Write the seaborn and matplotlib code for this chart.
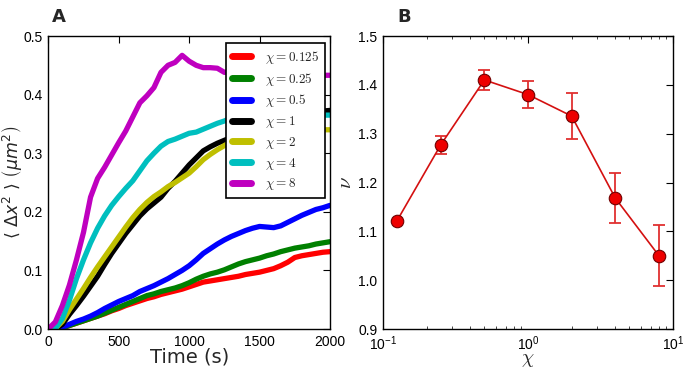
import numpy as np
import pandas as pd
import matplotlib
matplotlib.use("Agg")
import matplotlib.pyplot as plt
import seaborn as sns

# ---------------- data: panel A ----------------
time_s = [0, 50, 100, 150, 200, 250, 300, 350, 400, 450, 500, 550, 600, 650, 700, 750,
          800, 850, 900, 950, 1000, 1050, 1100, 1150, 1200, 1250, 1300, 1350, 1400, 1450,
          1500, 1550, 1600, 1650, 1700, 1750, 1800, 1850, 1900, 1950, 2000]

msd_chi_0125 = [0, 0, 0.002, 0.006, 0.010, 0.014, 0.018, 0.022, 0.026, 0.031, 0.035, 0.040,
                0.044, 0.048, 0.052, 0.055, 0.059, 0.062, 0.065, 0.068, 0.072, 0.076, 0.080,
                0.082, 0.084, 0.086, 0.088, 0.090, 0.093, 0.095, 0.097, 0.100, 0.103, 0.108,
                0.114, 0.122, 0.125, 0.127, 0.129, 0.131, 0.132]
msd_chi_025 = [0, 0, 0.002, 0.006, 0.010, 0.014, 0.018, 0.022, 0.027, 0.032, 0.037, 0.042,
               0.047, 0.052, 0.057, 0.060, 0.064, 0.067, 0.070, 0.074, 0.079, 0.085, 0.090,
               0.094, 0.097, 0.101, 0.106, 0.111, 0.115, 0.118, 0.121, 0.125, 0.128, 0.132,
               0.135, 0.138, 0.140, 0.142, 0.145, 0.147, 0.149]
msd_chi_05 = [0, 0, 0.003, 0.008, 0.013, 0.017, 0.022, 0.028, 0.035, 0.041, 0.047, 0.052,
              0.057, 0.064, 0.069, 0.074, 0.080, 0.086, 0.093, 0.100, 0.108, 0.118, 0.129,
              0.137, 0.145, 0.152, 0.158, 0.163, 0.168, 0.172, 0.175, 0.174, 0.173, 0.176,
              0.182, 0.188, 0.194, 0.199, 0.204, 0.207, 0.211]
msd_chi_1 = [0, 0, 0.008, 0.025, 0.040, 0.056, 0.073, 0.090, 0.110, 0.129, 0.146, 0.163,
             0.178, 0.193, 0.205, 0.215, 0.225, 0.240, 0.252, 0.266, 0.280, 0.292, 0.304,
             0.311, 0.317, 0.322, 0.327, 0.332, 0.337, 0.342, 0.346, 0.350, 0.354, 0.357,
             0.360, 0.363, 0.366, 0.368, 0.370, 0.372, 0.373]
msd_chi_2 = [0, 0.001, 0.013, 0.033, 0.051, 0.069, 0.088, 0.106, 0.123, 0.140, 0.157, 0.174,
             0.190, 0.204, 0.216, 0.226, 0.234, 0.243, 0.250, 0.258, 0.266, 0.277, 0.289,
             0.298, 0.306, 0.313, 0.320, 0.323, 0.326, 0.328, 0.330, 0.332, 0.333, 0.335,
             0.336, 0.337, 0.338, 0.339, 0.339, 0.340, 0.340]
msd_chi_4 = [0, 0.001, 0.018, 0.049, 0.086, 0.118, 0.147, 0.172, 0.193, 0.211, 0.226, 0.240,
             0.253, 0.270, 0.287, 0.300, 0.312, 0.320, 0.324, 0.329, 0.334, 0.336, 0.341,
             0.346, 0.351, 0.355, 0.360, 0.361, 0.362, 0.362, 0.363, 0.363, 0.364, 0.364,
             0.364, 0.365, 0.365, 0.365, 0.365, 0.365, 0.365]
msd_chi_8 = [0, 0.012, 0.040, 0.075, 0.118, 0.165, 0.225, 0.257, 0.276, 0.297, 0.318, 0.338,
             0.362, 0.386, 0.398, 0.412, 0.438, 0.450, 0.455, 0.467, 0.457, 0.450, 0.446,
             0.446, 0.445, 0.438, 0.439, 0.439, 0.440, 0.439, 0.438, 0.437, 0.437, 0.436,
             0.436, 0.435, 0.435, 0.434, 0.434, 0.433, 0.433]

series_labels = [r"$\chi=0.125$", r"$\chi=0.25$", r"$\chi=0.5$", r"$\chi=1$",
                 r"$\chi=2$", r"$\chi=4$", r"$\chi=8$"]
series_values = [msd_chi_0125, msd_chi_025, msd_chi_05, msd_chi_1,
                 msd_chi_2, msd_chi_4, msd_chi_8]
series_colors = ["#ff0000", "#008000", "#0000ff", "#000000", "#bfbf00", "#00bfbf", "#bf00bf"]

# ---------------- data: panel B ----------------
chi_values = [0.125, 0.25, 0.5, 1, 2, 4, 8]
nu_values = [1.122, 1.277, 1.410, 1.380, 1.336, 1.168, 1.050]
nu_errors = [0.0, 0.018, 0.020, 0.027, 0.047, 0.051, 0.062]

# ---------------- style ----------------
sns.set_theme(style="white")
plt.rcParams["font.family"] = ["Liberation Sans", "DejaVu Sans"]
plt.rcParams["mathtext.fontset"] = "cm"
plt.rcParams["axes.edgecolor"] = "black"
plt.rcParams["axes.linewidth"] = 1.0
plt.rcParams["xtick.direction"] = "in"
plt.rcParams["ytick.direction"] = "in"

fig = plt.figure(figsize=(6.83, 3.69), dpi=100)
axA = fig.add_axes([0.0707, 0.1084, 0.4125, 0.794])
axB = fig.add_axes([0.5608, 0.1084, 0.4246, 0.794])

# ---------------- panel A ----------------
rows = []
for lab, vals in zip(series_labels, series_values):
    for t, v in zip(time_s, vals):
        rows.append({"time": t, "msd": v, "chi": lab})
dfA = pd.DataFrame(rows)

sns.lineplot(data=dfA, x="time", y="msd", hue="chi", hue_order=series_labels,
             palette=series_colors, linewidth=3.8, ax=axA, legend=True)
axA.set_xlim(0, 2000)
axA.set_ylim(0, 0.5)
axA.set_xticks([0, 500, 1000, 1500, 2000])
axA.set_yticks([0.0, 0.1, 0.2, 0.3, 0.4, 0.5])
axA.set_yticklabels(["0.0", "0.1", "0.2", "0.3", "0.4", "0.5"])
axA.tick_params(axis="both", which="major", direction="in", length=5, width=0.8,
                top=True, right=True, labelsize=10, colors="black", pad=4)
axA.set_xlabel("Time (s)", fontsize=14, family="DejaVu Sans", labelpad=-1)
axA.set_ylabel(r"$\left\langle\ \Delta x^2\ \right\rangle\ \left(\mu m^2\right)$",
               fontsize=12.5, math_fontfamily="dejavusans")
axA.yaxis.set_label_coords(-0.085, 0.5)

handles, labels = axA.get_legend_handles_labels()
leg = axA.legend(handles, labels, loc="upper right", bbox_to_anchor=(0.982, 0.976),
                 borderaxespad=0, fancybox=False, framealpha=1, edgecolor="black",
                 fontsize=9.5, handlelength=1.5, labelspacing=0.36, borderpad=0.45,
                 handletextpad=1.0)
leg.get_frame().set_linewidth(1.2)
for ln in leg.get_lines():
    ln.set_linewidth(5)
axA.text(0.076, 0.955, "A", transform=fig.transFigure, fontsize=13, fontweight="bold",
         family="DejaVu Sans", ha="left", va="center")

# ---------------- panel B ----------------
dfB = pd.DataFrame({"chi": chi_values, "nu": nu_values, "err": nu_errors})
axB.errorbar(dfB["chi"], dfB["nu"], yerr=dfB["err"], fmt="none", ecolor="#e03030",
             elinewidth=1.3, capsize=4, capthick=1.3, zorder=2)
sns.lineplot(data=dfB, x="chi", y="nu", color="#d41010", linewidth=1.2, marker="o",
             markersize=9, markerfacecolor="#ee0000", markeredgecolor="#700000",
             markeredgewidth=0.8, ax=axB, zorder=3)
axB.set_xscale("log")
axB.set_xlim(0.1, 10)
axB.set_ylim(0.9, 1.5)
axB.set_yticks([0.9, 1.0, 1.1, 1.2, 1.3, 1.4, 1.5])
axB.set_yticklabels(["0.9", "1.0", "1.1", "1.2", "1.3", "1.4", "1.5"])
axB.tick_params(axis="both", which="major", direction="in", length=5, width=0.8,
                top=True, right=True, labelsize=10, colors="black", pad=4)
axB.tick_params(axis="x", which="minor", direction="in", length=2.5, width=0.6,
                top=True, bottom=True)
axB.set_xlabel(r"$\chi$", fontsize=14, labelpad=-1)
axB.set_ylabel(r"$\nu$", fontsize=15, labelpad=2)
axB.text(0.582, 0.955, "B", transform=fig.transFigure, fontsize=13, fontweight="bold",
         family="DejaVu Sans", ha="left", va="center")

fig.savefig("out.png", dpi=100)
